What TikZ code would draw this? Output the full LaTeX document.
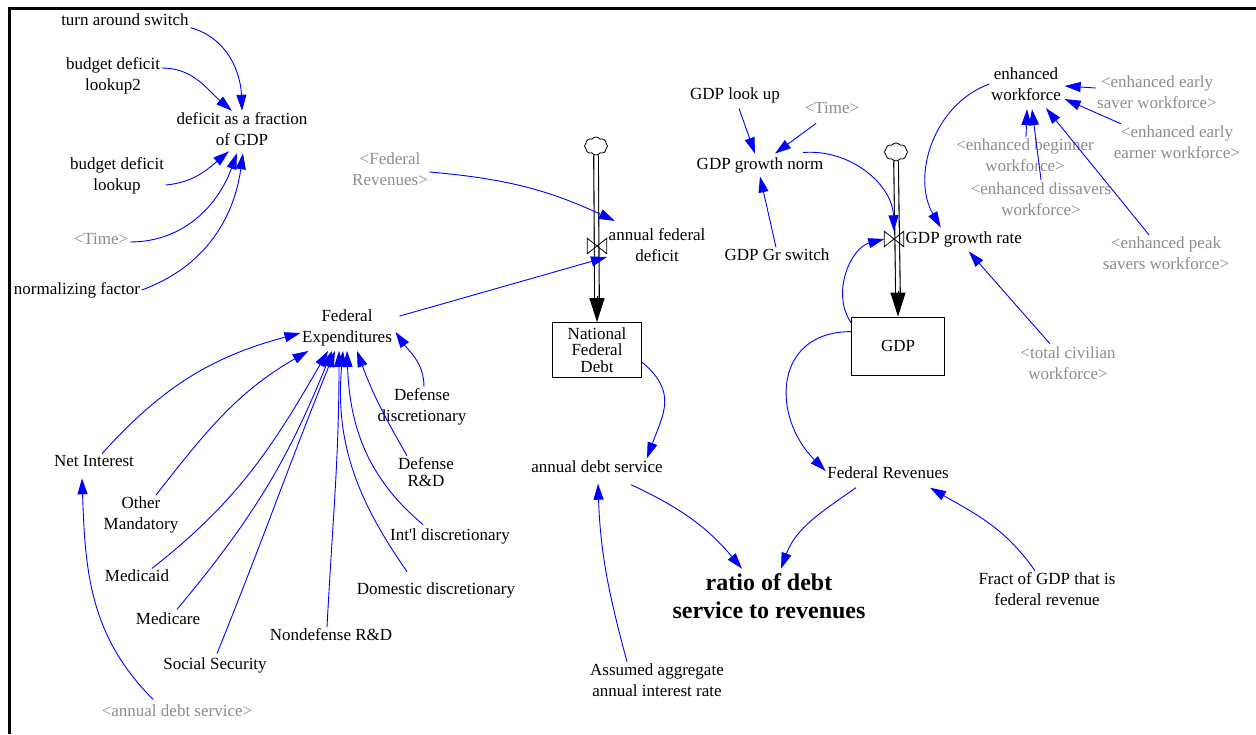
\documentclass[tikz,border=0pt]{standalone}
\usepackage{fontspec}
\setmainfont{Liberation Serif}
\usetikzlibrary{arrows.meta,shapes.symbols}

\definecolor{ghost}{gray}{0.55}

\begin{document}
\begin{tikzpicture}[x=1pt, y=-1pt,
    var/.style={align=center, inner sep=1.5pt, font=\fontsize{17}{21}\selectfont},
    ghostvar/.style={var, text=ghost},
    stock/.style={draw, line width=0.8pt, inner sep=0, minimum width=89pt, minimum height=55pt,
        align=center, font=\fontsize{17}{16.5}\selectfont},
    infl/.style={blue, line width=0.9pt, -{Triangle[length=16pt,width=10pt]}},
    pipe/.style={line width=1.1pt, double=white, double distance=3.5pt},
    flowtip/.style={line width=1pt, -{Triangle[length=24pt,width=15pt]}},
    puff/.style={cloud, draw, fill=white, cloud puffs=8, cloud puff arc=110, aspect=1.2,
        minimum width=23pt, minimum height=18pt, inner sep=0, line width=0.8pt},
    valve/.style={inner sep=0, minimum width=19pt, minimum height=15pt}]
    \useasboundingbox (0,0) rectangle (1256,734);

    % frame
    \draw[line width=3pt] (9,734) -- (9,8) -- (1256,8);

    % deficit as a fraction of GDP
    \node[var] (tas) at (125,20) {turn around switch};
    \node[var] (bdl2) at (113,76) {budget deficit\\lookup2};
    \node[var] (dfrac) at (242,129) {deficit as a fraction\\of GDP};
    \node[var] (bdl) at (117,176) {budget deficit\\lookup};
    \node[ghostvar] (time1) at (101,239) {<Time>};
    \node[var] (normf) at (77,290) {normalizing factor};

    \draw[infl] (tas.south east) to[out=-15,in=92] (dfrac.north);
    \draw[infl] ([yshift=8pt]bdl2.east) to[out=0,in=140] ([xshift=-10pt]dfrac.north);
    \draw[infl] ([yshift=-9pt]bdl.east) to[out=5,in=-140] ([xshift=-13pt,yshift=-4pt]dfrac.south);
    \draw[infl] ([yshift=-3pt]time1.east) to[out=0,in=-110] ([xshift=-5pt,yshift=-6pt]dfrac.south);
    \draw[infl] (normf.east) to[out=20,in=-98] ([xshift=1pt,yshift=-6pt]dfrac.south);

    % national federal debt
    \node[ghostvar] (fedrev2) at (390,169) {<Federal\\Revenues>};
    \node[puff] (cloud1) at (596,146) {};
    \node[valve] (valve1) at (597,246) {};
    \node[var, anchor=west] (afd) at (607,245) {annual federal\\deficit};
    \node[stock] (nfd) at (597,350) {National\\Federal\\Debt};
    \node[var] (fexp) at (347,328) {Federal\\Expenditures};

    \draw[pipe] (cloud1.south) -- ([yshift=22pt]nfd.north);
    \draw[flowtip] ([yshift=26pt]nfd.north) -- (nfd.north);
    \draw[line width=0.8pt] (valve1.north west) -- (valve1.south east) -- (valve1.north east)
        -- (valve1.south west) -- cycle;
    \draw[infl] ([yshift=-3pt]fedrev2.east) to[out=-5,in=155] ([xshift=8pt,yshift=24pt]afd.west);
    \draw[infl] ([xshift=6pt,yshift=-8pt]fexp.north east) -- ([yshift=-12pt]afd.west);

    % debt service ratio
    \node[var] (ads) at (597,467) {annual debt service};
    \node[var] (aair) at (657,680) {Assumed aggregate\\annual interest rate};
    \node[var, font=\bfseries\fontsize{24}{28}\selectfont] (ratio) at (769,596) {ratio of debt\\service to revenues};
    \node[var] (fedrev) at (888,473) {Federal Revenues};
    \node[var] (fract) at (1047,589) {Fract of GDP that is\\federal revenue};

    \draw[infl] ([yshift=-12pt]nfd.east) to[out=-40,in=70,looseness=1.25] ([xshift=50pt,yshift=1pt]ads.north);
    \draw[infl] ([xshift=-30pt]aair.north) to[out=105,in=-88] ([xshift=1pt,yshift=-9pt]ads.south);
    \draw[infl] ([xshift=34pt,yshift=-10pt]ads.south) to[out=-25,in=130] ([xshift=-27pt,yshift=3pt]ratio.north);
    \draw[infl] ([xshift=-32pt,yshift=-7pt]fedrev.south) to[out=-145,in=70] ([xshift=12pt,yshift=3pt]ratio.north);
    \draw[infl] ([xshift=-12pt]fract.north) to[out=125,in=-30] ([xshift=42pt,yshift=-7pt]fedrev.south);

    % GDP
    \node[stock, minimum width=93pt, minimum height=58pt] (gdp) at (898,346) {GDP};
    \node[puff] (cloud2) at (896,152) {};
    \node[valve] (valve2) at (894,239) {};
    \node[var, anchor=west] (ggr) at (904,239) {GDP growth rate};
    \node[var] (glu) at (735,95) {GDP look up};
    \node[ghostvar] (time2) at (832,108) {<Time>};
    \node[var] (ggn) at (760,165) {GDP growth norm};
    \node[var] (ggs) at (777,255) {GDP Gr switch};

    \draw[pipe] (cloud2.south) -- ([yshift=22pt]gdp.north);
    \draw[flowtip] ([yshift=26pt]gdp.north) -- (gdp.north);
    \draw[line width=0.8pt] (valve2.north west) -- (valve2.south east) -- (valve2.north east)
        -- (valve2.south west) -- cycle;
    \draw[infl] ([xshift=4pt,yshift=-4pt]glu.south) -- ([xshift=-5pt,yshift=2pt]ggn.north);
    \draw[infl] ([xshift=-16pt,yshift=-8pt]time2.south) -- ([xshift=15pt,yshift=2pt]ggn.north);
    \draw[infl] ([xshift=-1pt]ggs.north) -- ([yshift=-2pt]ggn.south);
    \draw[infl] ([xshift=-22pt,yshift=3pt]ggn.north east) to[out=5,in=92] (valve2.north);
    \draw[infl] ([yshift=-6pt]gdp.north west) to[out=125,in=195] (valve2.west);
    \draw[infl] ([yshift=-15pt]gdp.north west) to[out=180,in=135,looseness=1.4] ([yshift=2pt]fedrev.west);

    % workforce
    \node[var] (enw) at (1026,84) {enhanced\\workforce};
    \node[ghostvar] (ees) at (1157,92) {<enhanced early\\saver workforce>};
    \node[ghostvar] (eee) at (1177,142) {<enhanced early\\earner workforce>};
    \node[ghostvar] (ebw) at (1025,155) {<enhanced beginner\\workforce>};
    \node[ghostvar] (edw) at (1041,199) {<enhanced dissavers\\workforce>};
    \node[ghostvar] (epw) at (1166,253) {<enhanced peak\\savers workforce>};
    \node[ghostvar] (tcw) at (1068,363) {<total civilian\\workforce>};

    \draw[infl] ([yshift=4pt]ees.west) -- ([xshift=2pt,yshift=-2pt]enw.east);
    \draw[infl] ([xshift=-56pt]eee.north) -- ([xshift=2pt,yshift=-15pt]enw.east);
    \draw[infl] ([xshift=1pt]ebw.north) -- ([xshift=1pt,yshift=-7pt]enw.south);
    \draw[infl] ([yshift=1pt]edw.north) -- ([xshift=6pt,yshift=-7pt]enw.south);
    \draw[infl] ([xshift=-17pt]epw.north) -- ([xshift=20pt,yshift=-6pt]enw.south);
    \draw[infl] (enw.west) to[out=200,in=120] ([xshift=-23pt,yshift=2pt]ggr.north);
    \draw[infl] ([xshift=-18pt,yshift=1pt]tcw.north) -- ([xshift=5pt,yshift=-3pt]ggr.south);

    % federal expenditures
    \node[var] (ddi) at (422,407) {Defense\\discretionary};
    \node[var, font=\fontsize{17}{17}\selectfont] (drd) at (426,472) {Defense\\R\&D};
    \node[var] (intl) at (450,536) {Int\textquotesingle l discretionary};
    \node[var] (dd) at (436,590) {Domestic discretionary};
    \node[var] (nd) at (331,635) {Nondefense R\&D};
    \node[var] (ss) at (215,665) {Social Security};
    \node[var] (mc) at (168,619) {Medicare};
    \node[var] (md) at (137,576) {Medicaid};
    \node[var] (om) at (141,515) {Other\\Mandatory};
    \node[var] (ni) at (94,461) {Net Interest};
    \node[ghostvar] (ads2) at (177,711) {<annual debt service>};

    \draw[infl] ([xshift=8pt]ni.north) to[out=48,in=195] ([yshift=-5pt]fexp.west);
    \draw[infl] ([xshift=15pt]om.north) to[out=52,in=-150] ([xshift=8pt,yshift=-3pt]fexp.south west);
    \draw[infl] ([xshift=15pt]md.north) to[out=38,in=-120] ([xshift=-19pt,yshift=-3pt]fexp.south);
    \draw[infl] ([xshift=9pt,yshift=2pt]mc.north) to[out=50,in=-112] ([xshift=-15pt,yshift=-3pt]fexp.south);
    \draw[infl] ([xshift=2pt,yshift=2pt]ss.north) to[out=68,in=-112] ([xshift=-12pt,yshift=-3pt]fexp.south);
    \draw[infl] ([xshift=-4pt]nd.north) to[out=87,in=-90] ([xshift=-8pt,yshift=-3pt]fexp.south);
    \draw[infl] ([xshift=-29pt,yshift=9pt]dd.north) to[out=125,in=-95] ([xshift=-4pt,yshift=-3pt]fexp.south);
    \draw[infl] ([xshift=-27pt,yshift=2pt]intl.north) to[out=140,in=-88] ([yshift=-3pt]fexp.south);
    \draw[infl] ([xshift=-19pt]drd.north) to[out=120,in=-70] ([xshift=10pt,yshift=-3pt]fexp.south);
    \draw[infl] ([xshift=2pt]ddi.north) to[out=90,in=-55] ([xshift=2pt,yshift=-4pt]fexp.east);
    \draw[infl] ([xshift=-24pt,yshift=4pt]ads2.north) to[out=135,in=-88] ([xshift=-12pt,yshift=-10pt]ni.south);
\end{tikzpicture}
\end{document}
